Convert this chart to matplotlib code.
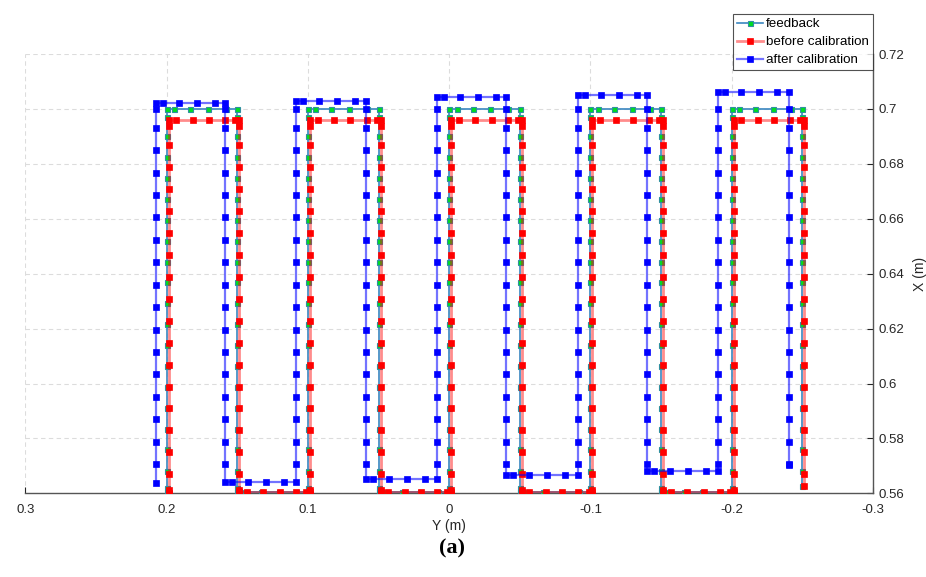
import numpy as np
import matplotlib
matplotlib.use("Agg")
import matplotlib.pyplot as plt

# Y position (m) of every vertical pass, left to right
fb_cols = [0.200, 0.150, 0.100, 0.050, 0.000, -0.050, -0.100, -0.150, -0.200, -0.250]
bc_cols = [0.1986, 0.1486, 0.0986, 0.0486, -0.0014, -0.0514, -0.1014, -0.1514, -0.2014, -0.2514]
ac_cols = [0.2076, 0.1587, 0.1085, 0.0589, 0.0086, -0.0402, -0.0912, -0.1400, -0.1903, -0.2405]

# turn levels X (m): start, top of each block, bottom between blocks, end
fb_tops = [0.700, 0.700, 0.700, 0.700, 0.700]
fb_bottoms = [0.560, 0.5605, 0.5605, 0.5605, 0.5605, 0.5625]
bc_tops = [0.696, 0.696, 0.696, 0.696, 0.696]
bc_bottoms = [0.5600, 0.5605, 0.5605, 0.5605, 0.5605, 0.5625]
ac_tops = [0.7021, 0.7030, 0.7043, 0.7052, 0.7062]
ac_bottoms = [0.5636, 0.5642, 0.5652, 0.5665, 0.5682, 0.5703]

# sampled X levels along the vertical passes
fb_levels = [0.5620, 0.5680, 0.5762, 0.5836, 0.5912, 0.5988, 0.6064, 0.6140, 0.6216,
             0.6292, 0.6368, 0.6444, 0.6520, 0.6596, 0.6672, 0.6748, 0.6825, 0.6902, 0.6972]
bc_levels = [0.5612, 0.5670, 0.5749, 0.5829, 0.5909, 0.5989, 0.6069, 0.6149, 0.6229,
             0.6309, 0.6389, 0.6469, 0.6549, 0.6629, 0.6709, 0.6789, 0.6867, 0.6936]
ac_levels = [0.5707, 0.5788, 0.5870, 0.5951, 0.6033, 0.6115, 0.6196, 0.6278, 0.6360,
             0.6441, 0.6523, 0.6605, 0.6686, 0.6768, 0.6850, 0.6930, 0.7000]

# sampled offsets (m) along the horizontal passes
fb_hoff = [0.0052, 0.0165, 0.0292, 0.0418]
bc_hoff = [0.0054, 0.0170, 0.0287, 0.0401, 0.0472]
ac_hoff = [0.0052, 0.0165, 0.0292, 0.0416]

xticks = [0.3, 0.2, 0.1, 0.0, -0.1, -0.2, -0.3]
xtick_labels = ["0.3", "0.2", "0.1", "0", "-0.1", "-0.2", "-0.3"]
yticks = [0.56, 0.58, 0.60, 0.62, 0.64, 0.66, 0.68, 0.70, 0.72]
ytick_labels = ["0.56", "0.58", "0.6", "0.62", "0.64", "0.66", "0.68", "0.7", "0.72"]


def build_path(cols, tops, bottoms, levels, hoff):
    ys, xs = [], []
    for i, c in enumerate(cols):
        if i % 2 == 0:
            lo, hi = bottoms[i // 2], tops[i // 2]
            vals = [lo] + [v for v in levels if lo < v < hi] + [hi]
        else:
            lo, hi = bottoms[(i + 1) // 2], tops[i // 2]
            vals = [hi] + [v for v in levels[::-1] if lo < v < hi] + [lo]
        ys += [c] * len(vals)
        xs += vals
        if i + 1 < len(cols):
            lev = vals[-1]
            step = np.sign(cols[i + 1] - c)
            for o in hoff:
                ys.append(c + step * o)
                xs.append(lev)
    return np.array(ys), np.array(xs)


fb_y, fb_x = build_path(fb_cols, fb_tops, fb_bottoms, fb_levels, fb_hoff)
bc_y, bc_x = build_path(bc_cols, bc_tops, bc_bottoms, bc_levels, bc_hoff)
ac_y, ac_x = build_path(ac_cols, ac_tops, ac_bottoms, ac_levels, ac_hoff)

plt.rcParams['font.family'] = ['Liberation Sans', 'DejaVu Sans']
fig = plt.figure(figsize=(9.26, 5.77), dpi=100)
ax = fig.add_axes([0.0274, 0.145, 0.9154, 0.7614])

ax.plot(fb_y, fb_x, color='#3a86c0', lw=1.2, marker='s', ms=3.6,
        mfc='#00dd22', mec='#2f8fa0', mew=0.8, label='feedback', zorder=3)
ax.plot(bc_y, bc_x, color=(1, 0, 0, 0.45), lw=2.0, marker='s', ms=4.3,
        mfc='#ff0000', mec='#ff0000', mew=0.5, label='before calibration', zorder=4)
ax.plot(ac_y, ac_x, color=(0, 0, 1, 0.55), lw=1.6, marker='s', ms=4.3,
        mfc='#0000ff', mec='#0000ff', mew=0.5, label='after calibration', zorder=5)

ax.set_xlim(0.3, -0.3)
ax.set_ylim(0.56, 0.72)
ax.set_xticks(xticks)
ax.set_xticklabels(xtick_labels)
ax.set_yticks(yticks)
ax.set_yticklabels(ytick_labels)
ax.yaxis.tick_right()
ax.yaxis.set_label_position('right')
ax.tick_params(direction='in', length=4, width=0.8, colors='#262626', labelsize=9.5)
ax.tick_params(axis='x', pad=8)
ax.tick_params(axis='y', pad=4)
ax.set_xlabel('Y (m)', fontsize=10, color='#262626', labelpad=2)
ax.set_ylabel('X (m)', fontsize=10, color='#262626', labelpad=6)

for s in ['top', 'left']:
    ax.spines[s].set_visible(False)
for s in ['bottom', 'right']:
    ax.spines[s].set_color('#555555')
    ax.spines[s].set_linewidth(1.0)
ax.grid(True, ls=(0, (4, 3)), color='#dcdcdc', lw=0.8)
ax.set_axisbelow(True)

leg = ax.legend(loc='upper right', bbox_to_anchor=(873 / 926, 1 - 14 / 577),
                bbox_transform=fig.transFigure, fontsize=9.6, frameon=True, fancybox=False,
                handlelength=2.0, handletextpad=0.2, borderpad=0.3, labelspacing=0.42,
                borderaxespad=0)
leg.get_frame().set_edgecolor('#262626')
leg.get_frame().set_linewidth(0.8)
leg.set_zorder(10)

fig.text(0.488, 0.05, '(a)', ha='center', va='center', fontsize=16,
         fontweight='bold', family=['Liberation Serif', 'DejaVu Serif'])

fig.savefig('out.png', dpi=100)
